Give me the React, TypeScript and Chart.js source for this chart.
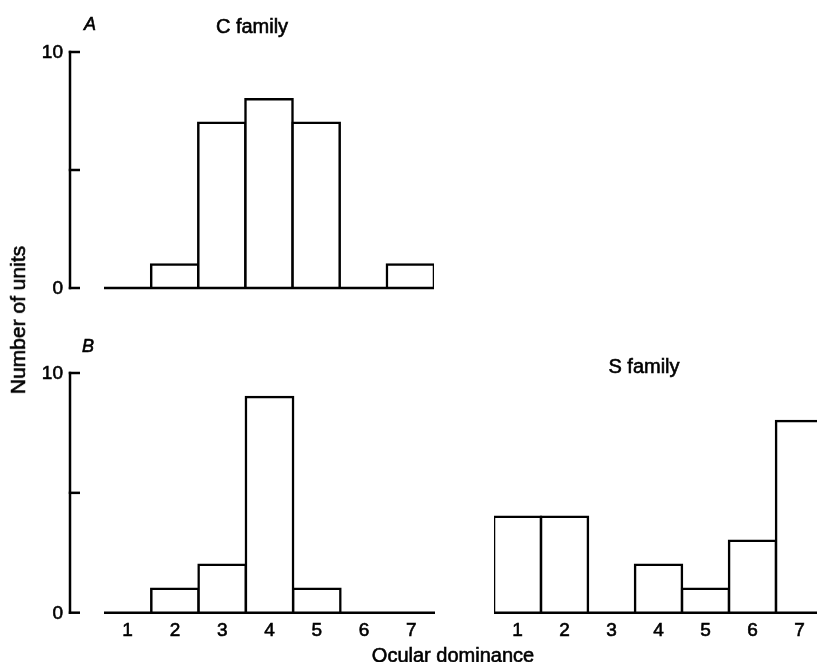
import { useEffect, useRef } from "react";
import { Chart, registerables } from "chart.js";

Chart.register(...registerables);

// Ocular dominance classes (1 = contralateral only ... 7 = ipsilateral only)
const dominance = ["1", "2", "3", "4", "5", "6", "7"];

// Number of units per class
const cFamilyUnits = [0, 1, 7, 8, 7, 0, 1];
const bLeftUnits = [0, 1, 2, 9, 1, 0, 0];
const sFamilyUnits = [4, 4, 0, 2, 1, 3, 8];

// Vertical axis
const yMax = 10;
const yTickValues = [0, 5, 10];
const yTickLabels = ["0", "", "10"];

const FONT = "'Liberation Sans', Arial, Helvetica, sans-serif";
const TEXT_STROKE = 0.6;

type TextItem = { text: string; x: number; y: number; italic?: boolean; size: number };
type DecorOpts = { axisX?: number; tickLen: number; texts: TextItem[] };

// Draws the baseline, the detached y axis with inward ticks, and panel texts
const panelDecor = {
  id: "panelDecor",
  afterDatasetsDraw(chart: any, _args: any, opts: DecorOpts) {
    const { ctx, chartArea } = chart;
    const y = chart.scales.y;
    const y0 = y.getPixelForValue(0);
    ctx.save();
    ctx.strokeStyle = "#000";
    ctx.fillStyle = "#000";
    ctx.lineWidth = 2.5;
    ctx.lineCap = "butt";

    ctx.beginPath();
    ctx.moveTo(chartArea.left, y0);
    ctx.lineTo(chartArea.right, y0);
    ctx.stroke();

    const label = (text: string, x: number, yy: number) => {
      ctx.save();
      ctx.lineWidth = TEXT_STROKE;
      ctx.fillText(text, x, yy);
      ctx.strokeText(text, x, yy);
      ctx.restore();
    };

    if (opts.axisX !== undefined) {
      const ax = opts.axisX;
      const yTop = y.getPixelForValue(yMax);
      ctx.beginPath();
      ctx.moveTo(ax, yTop - 1.25);
      ctx.lineTo(ax, y0 + 1.25);
      ctx.stroke();
      ctx.font = `19px ${FONT}`;
      ctx.textAlign = "right";
      ctx.textBaseline = "middle";
      yTickValues.forEach((v, i) => {
        const py = y.getPixelForValue(v);
        ctx.beginPath();
        ctx.moveTo(ax - 1.25, py);
        ctx.lineTo(ax + opts.tickLen, py);
        ctx.stroke();
        if (yTickLabels[i]) label(yTickLabels[i], ax - 7, py + 1);
      });
    }

    ctx.textAlign = "center";
    ctx.textBaseline = "alphabetic";
    opts.texts.forEach((t) => {
      ctx.font = `${t.italic ? "italic " : ""}${t.size}px ${FONT}`;
      label(t.text, t.x, t.y);
    });
    ctx.restore();
  },
};

type Box = { left: number; top: number; width: number; height: number };
type Pad = { left: number; right: number; top: number; bottom: number };

function Histogram({
  values,
  box,
  padding,
  showX,
  decor,
}: {
  values: number[];
  box: Box;
  padding: Pad;
  showX: boolean;
  decor: DecorOpts;
}) {
  const ref = useRef<HTMLCanvasElement>(null);
  useEffect(() => {
    const chart = new Chart(ref.current as HTMLCanvasElement, {
      type: "bar",
      data: {
        labels: dominance,
        datasets: [
          {
            data: values,
            backgroundColor: "#ffffff",
            borderColor: "#000000",
            borderWidth: 2.5,
            borderSkipped: "start",
            inflateAmount: 1.25,
            barPercentage: 1,
            categoryPercentage: 1,
          } as any,
        ],
      },
      options: {
        responsive: false,
        animation: false,
        devicePixelRatio: 1,
        events: [],
        layout: { padding },
        plugins: {
          legend: { display: false },
          tooltip: { enabled: false },
          panelDecor: decor,
        } as any,
        scales: {
          x: {
            display: showX,
            grid: { display: false, drawTicks: false },
            border: { display: false },
            ticks: {
              color: "#000",
              font: { family: FONT, size: 19 },
              padding: 6.5,
              maxRotation: 0,
              autoSkip: false,
              textStrokeColor: "#000",
              textStrokeWidth: TEXT_STROKE,
            },
          },
          y: { display: false, min: 0, max: yMax },
        },
      },
      plugins: [panelDecor],
    });
    return () => chart.destroy();
  }, []);
  return (
    <canvas
      ref={ref}
      width={box.width}
      height={box.height}
      style={{
        position: "absolute",
        left: box.left,
        top: box.top,
        width: box.width,
        height: box.height,
      }}
    />
  );
}

export default function App() {
  const textStyle = {
    position: "absolute" as const,
    fontSize: 20,
    lineHeight: "20px",
    whiteSpace: "nowrap" as const,
    WebkitTextStroke: `${TEXT_STROKE}px #000`,
  };
  return (
    <div
      style={{
        position: "absolute",
        left: 0,
        top: 0,
        width: 817,
        height: 662,
        overflow: "hidden",
        background: "#fff",
        fontFamily: FONT,
        color: "#000",
      }}
    >
      <Histogram
        values={cFamilyUnits}
        box={{ left: 0, top: 0, width: 450, height: 300 }}
        padding={{ left: 104, right: 16, top: 52, bottom: 12 }}
        showX={false}
        decor={{
          axisX: 70,
          tickLen: 10,
          texts: [
            { text: "A", x: 90, y: 30, italic: true, size: 18 },
            { text: "C family", x: 252, y: 33, size: 20 },
          ],
        }}
      />
      <Histogram
        values={bLeftUnits}
        box={{ left: 0, top: 320, width: 450, height: 342 }}
        padding={{ left: 104, right: 15, top: 53, bottom: 13.5 }}
        showX={true}
        decor={{
          axisX: 70,
          tickLen: 10,
          texts: [{ text: "B", x: 88, y: 32, italic: true, size: 18 }],
        }}
      />
      <Histogram
        values={sFamilyUnits}
        box={{ left: 440, top: 320, width: 400, height: 342 }}
        padding={{ left: 54, right: 17, top: 53, bottom: 13.5 }}
        showX={true}
        decor={{
          tickLen: 10,
          texts: [{ text: "S family", x: 204, y: 53, size: 20 }],
        }}
      />
      <div style={{ ...textStyle, left: 453, top: 645, transform: "translateX(-50%)" }}>
        Ocular dominance
      </div>
      <div
        style={{
          ...textStyle,
          left: 18,
          top: 320,
          fontSize: 21,
          transform: "translate(-50%, -50%) rotate(-90deg)",
        }}
      >
        Number of units
      </div>
    </div>
  );
}
